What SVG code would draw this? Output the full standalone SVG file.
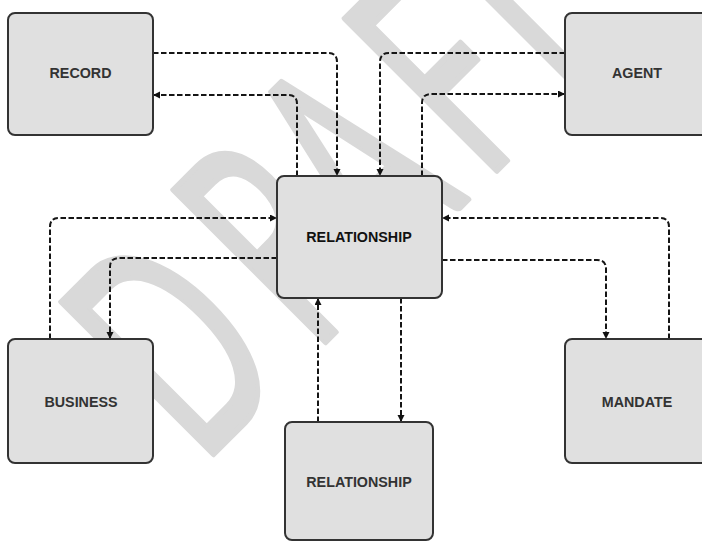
<svg xmlns="http://www.w3.org/2000/svg" width="702" height="542" viewBox="0 0 702 542">
<defs>
<marker id="ah" markerWidth="8" markerHeight="8" refX="7" refY="3.5" orient="auto" markerUnits="userSpaceOnUse"><path d="M0,0 L7,3.5 L0,7 z" fill="#111"/></marker>
</defs>
<style>
.wm{font-family:Lato,"Liberation Sans",sans-serif;font-size:300px;fill:#d9d9d9;stroke:#d9d9d9;stroke-width:6;stroke-linejoin:round;text-anchor:middle}
.box{fill:#e0e0e0;stroke:#333;stroke-width:2}
.lbl{font-family:"Liberation Sans",Arial,sans-serif;font-size:14.3px;font-weight:bold;fill:#333;text-anchor:middle}
.main{fill:#111}
.c{fill:none;stroke:#151515;stroke-width:2;stroke-dasharray:5.5 2.5;marker-end:url(#ah)}
</style>
<rect width="702" height="542" fill="#fff"/>
<g id="watermark" transform="rotate(-45) scale(0.57,1)">
<text class="wm" x="-214 44 235 460 619" y="472">DRAFT</text>
</g>
<g id="connectors">
<path class="c" d="M153,53 H328 Q337,53 337,62 V176"/>
<path class="c" d="M297,176 V104 Q297,95 288,95 H153"/>
<path class="c" d="M565,53 H389 Q380,53 380,62 V176"/>
<path class="c" d="M422,176 V103 Q422,94 431,94 H565"/>
<path class="c" d="M50,339 V227 Q50,218 59,218 H277"/>
<path class="c" d="M277,258 H119 Q110,258 110,267 V339"/>
<path class="c" d="M669,339 V227 Q669,218 660,218 H442"/>
<path class="c" d="M442,260 H597 Q606,260 606,269 V339"/>
<path class="c" d="M318,422 V298"/>
<path class="c" d="M401,298 V422"/>
</g>
<g id="record"><rect class="box" x="8" y="13" width="145" height="122" rx="7"/><text class="lbl" x="80.5" y="78">RECORD</text></g>
<g id="agent"><rect class="box" x="565" y="13" width="145" height="122" rx="7"/><text class="lbl" x="637" y="78">AGENT</text></g>
<g id="relationship"><rect class="box" x="277" y="176" width="165" height="122" rx="7"/><text class="lbl main" x="359" y="242">RELATIONSHIP</text></g>
<g id="business"><rect class="box" x="8" y="339" width="145" height="124" rx="7"/><text class="lbl" x="81" y="407">BUSINESS</text></g>
<g id="mandate"><rect class="box" x="565" y="339" width="145" height="124" rx="7"/><text class="lbl" x="637" y="407">MANDATE</text></g>
<g id="relationship2"><rect class="box" x="285" y="422" width="148" height="118" rx="7"/><text class="lbl" x="359" y="487">RELATIONSHIP</text></g>
</svg>
